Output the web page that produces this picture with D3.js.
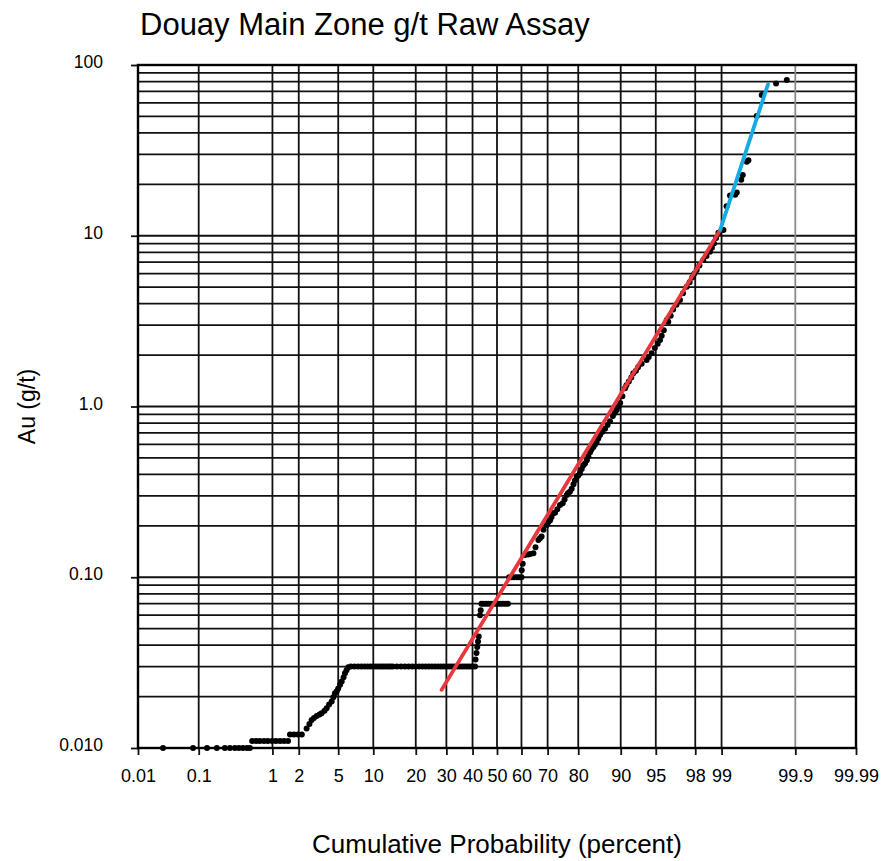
<!DOCTYPE html>
<html>
<head>
<meta charset="utf-8">
<script src="https://cdn.jsdelivr.net/npm/d3@7"></script>
<style>
  body { margin: 0; background: #fff; }
  text { font-family: 'Liberation Sans', Arial, sans-serif; }
</style>
</head>
<body>
<div id="viz"></div>
<script>
const width = 882;
const height = 861;
const margin = {top: 65, right: 26, bottom: 113, left: 138};

// Probability axis ticks (percent) and log axis ticks (g/t)
const xTicks = [0.01, 0.1, 1, 2, 5, 10, 20, 30, 40, 50, 60, 70, 80, 90, 95, 98, 99, 99.9, 99.99];
const yTicks = [0.01, 0.1, 1, 10, 100];
const yTickLabels = ['0.010', '0.10', '1.0', '10', '100'];

// Assays: cumulative probability (percent) and Au (g/t)
const cumProb = [
  0.027, 0.082, 0.133, 0.185, 0.241, 0.283, 0.331, 0.375, 0.424, 0.479, 0.523,
  0.56, 0.63, 0.70, 0.79, 0.88, 0.99, 1.10, 1.23, 1.37, 1.52,
  1.60, 1.77, 1.96, 2.16,
  2.43, 2.6, 2.74, 2.9, 3.09, 3.3, 3.46, 3.7, 3.88, 4.1, 4.34, 4.5, 4.66, 4.85, 5.0, 5.2, 5.38, 5.6, 5.76, 5.95, 6.17,
  6.5, 7, 7.5, 8, 8.5, 9, 9.5, 10, 10.5, 11, 11.5, 12, 12.5, 13, 13.5, 14,
  15, 16, 17, 18, 19, 20, 21, 22, 23, 24, 25, 26, 27, 28, 29, 30, 31, 32, 33, 34, 35, 36, 37, 38, 39, 40, 41,
  41.2, 41.6, 41.9, 42.2, 42.5, 43.0, 43.3,
  43.6, 44.5, 45.5, 46.5, 47.5, 48.5, 49.5, 50.5, 51.5, 52.5, 53.5, 54.5,
  55, 56, 57, 58, 59, 60,
  60.1, 60.5, 61.4, 62.7, 63.5, 64.7, 65.5, 66.6, 67.2, 67.8, 68.5, 69.7, 70.3, 70.9, 71.4, 72.0, 72.6, 73.4, 74.3, 75.2,
  75.8, 76.5, 76.9, 77.5, 78.05, 78.6, 79.05, 79.55, 80.0, 80.5, 81.0, 81.4, 81.9, 82.4, 82.8, 83.25, 83.6, 84.1, 84.5, 84.9,
  85.3, 85.7, 86.2, 86.85, 87.4, 87.9, 88.5, 88.9, 89.25, 89.6, 89.9, 90.3, 90.76, 91.0, 91.4, 91.8, 92.1, 92.5, 92.8, 93.3,
  93.95, 94.2, 94.55, 94.9, 95.2, 95.44, 95.6, 95.8, 96.07, 96.2, 96.4, 96.6, 96.85, 97.1, 97.3, 97.53, 97.7, 97.84, 97.95, 98.07,
  98.2, 98.37, 98.5, 98.63, 98.7, 98.77, 98.84, 98.91, 99.05,
  99.13, 99.21, 99.32, 99.35, 99.43, 99.455, 99.517, 99.54, 99.644, 99.695, 99.808, 99.866
];
const auGt = [
  0.01, 0.01, 0.01, 0.01, 0.01, 0.01, 0.01, 0.01, 0.01, 0.01, 0.01,
  0.011, 0.011, 0.011, 0.011, 0.011, 0.011, 0.011, 0.011, 0.011, 0.011,
  0.012, 0.012, 0.012, 0.012,
  0.013, 0.0138, 0.0146, 0.015, 0.0154, 0.0157, 0.016, 0.0165, 0.0171, 0.018, 0.0187, 0.0198, 0.0209, 0.0215, 0.0223, 0.0235, 0.0245, 0.026, 0.0274, 0.0285, 0.0297,
  0.03, 0.03, 0.03, 0.03, 0.03, 0.03, 0.03, 0.03, 0.03, 0.03, 0.03, 0.03, 0.03, 0.03, 0.03, 0.03,
  0.03, 0.03, 0.03, 0.03, 0.03, 0.03, 0.03, 0.03, 0.03, 0.03, 0.03, 0.03, 0.03, 0.03, 0.03, 0.03, 0.03, 0.03, 0.03, 0.03, 0.03, 0.03, 0.03, 0.03, 0.03, 0.03, 0.03,
  0.033, 0.036, 0.039, 0.042, 0.045, 0.06, 0.064,
  0.07, 0.07, 0.07, 0.07, 0.07, 0.07, 0.07, 0.07, 0.07, 0.07, 0.07, 0.07,
  0.1, 0.1, 0.1, 0.1, 0.1, 0.1,
  0.11, 0.12, 0.135, 0.136, 0.137, 0.138, 0.15, 0.165, 0.169, 0.173, 0.19, 0.202, 0.211, 0.216, 0.225, 0.237, 0.239, 0.25, 0.265, 0.271,
  0.285, 0.303, 0.31, 0.317, 0.33, 0.35, 0.369, 0.388, 0.395, 0.405, 0.43, 0.452, 0.464, 0.485, 0.51, 0.54, 0.56, 0.58, 0.6, 0.62,
  0.65, 0.68, 0.71, 0.74, 0.78, 0.82, 0.88, 0.92, 0.954, 1.0, 1.05, 1.15, 1.278, 1.33, 1.4, 1.48, 1.565, 1.62, 1.7, 1.78,
  1.872, 1.95, 2.05, 2.2, 2.33, 2.452, 2.6, 2.8, 3.21, 3.138, 3.4, 3.7, 3.95, 4.2, 4.6, 5.03, 5.35, 5.7, 6.0, 6.3,
  6.7, 7.2, 7.6, 8.06, 8.5, 9.0, 9.7, 10.4, 10.8,
  14.9, 17.2, 17.4, 17.9, 21.3, 22.7, 27.1, 27.7, 50.3, 66.7, 78, 81.7
];
console.assert(cumProb.length === auGt.length, cumProb.length, auGt.length);

// Lognormal fits: lower population (red) and upper population (blue)
const lowFitProb = [28.3, 98.96];
const lowFitAu = [0.0219, 10.8];
const highFitProb = [98.96, 99.75];
const highFitAu = [10.8, 77];

// inverse normal CDF (Acklam) for the probability axis
const probit = (p) => {
  const a = [-3.969683028665376e+01, 2.209460984245205e+02, -2.759285104469687e+02, 1.383577518672690e+02, -3.066479806614716e+01, 2.506628277459239e+00];
  const b = [-5.447609879822406e+01, 1.615858368580409e+02, -1.556989798598866e+02, 6.680131188771972e+01, -1.328068155288572e+01];
  const c = [-7.784894002430293e-03, -3.223964580411365e-01, -2.400758277161838e+00, -2.549732539343734e+00, 4.374664141464968e+00, 2.938163982698783e+00];
  const d = [7.784695709041462e-03, 3.224671290700398e-01, 2.445134137142996e+00, 3.754408661907416e+00];
  const pl = 0.02425;
  let q, r;
  if (p < pl) {
    q = Math.sqrt(-2 * Math.log(p));
    return (((((c[0]*q + c[1])*q + c[2])*q + c[3])*q + c[4])*q + c[5]) / ((((d[0]*q + d[1])*q + d[2])*q + d[3])*q + 1);
  }
  if (p > 1 - pl) {
    q = Math.sqrt(-2 * Math.log(1 - p));
    return -(((((c[0]*q + c[1])*q + c[2])*q + c[3])*q + c[4])*q + c[5]) / ((((d[0]*q + d[1])*q + d[2])*q + d[3])*q + 1);
  }
  q = p - 0.5;
  r = q * q;
  return (((((a[0]*r + a[1])*r + a[2])*r + a[3])*r + a[4])*r + a[5])*q / (((((b[0]*r + b[1])*r + b[2])*r + b[3])*r + b[4])*r + 1);
};

const zScale = d3.scaleLinear()
  .domain([probit(0.0001), probit(0.9999)])
  .range([margin.left, width - margin.right]);

// probability scale usable by d3.axis
const xScale = (p) => zScale(probit(p / 100));
xScale.domain = () => [0.01, 99.99];
xScale.range = () => zScale.range();
xScale.copy = () => xScale;

const yScale = d3.scaleLog()
  .domain([0.01, 100])
  .range([height - margin.bottom, margin.top]);

const svg = d3.select('#viz')
  .append('svg')
    .attr('width', width)
    .attr('height', height);

// grid
const yGrid = [];
[0.01, 0.1, 1, 10].forEach(dec => {
  for (let k = 1; k <= 9; k++) yGrid.push(dec * k);
});
yGrid.push(100);

svg.append('g')
  .selectAll('line')
  .data(yGrid)
  .join('line')
    .attr('x1', margin.left)
    .attr('x2', width - margin.right)
    .attr('y1', d => yScale(d))
    .attr('y2', d => yScale(d))
    .attr('stroke', '#111')
    .attr('stroke-width', (d, i) => i % 9 === 0 ? 2.2 : 1.8);

svg.append('g')
  .selectAll('line')
  .data(xTicks)
  .join('line')
    .attr('x1', d => xScale(d))
    .attr('x2', d => xScale(d))
    .attr('y1', margin.top)
    .attr('y2', height - margin.bottom)
    .attr('stroke', d => d === 99.9 ? '#8a8a8a' : '#111')
    .attr('stroke-width', 1.8);

// axes
const xAxis = svg.append('g')
  .attr('transform', `translate(0, ${height - margin.bottom})`)
  .call(d3.axisBottom(xScale).tickValues(xTicks).tickSize(7).tickPadding(14).tickFormat(d => d));
xAxis.select('.domain').remove();
xAxis.selectAll('line').attr('stroke', '#111').attr('stroke-width', 1.8);
xAxis.selectAll('text').attr('font-size', 18).attr('fill', '#000');

const yAxis = svg.append('g')
  .attr('transform', `translate(${margin.left}, 0)`)
  .call(d3.axisLeft(yScale).tickValues(yTicks).tickSize(7).tickPadding(28)
    .tickFormat((d, i) => yTickLabels[i]));
yAxis.select('.domain').remove();
yAxis.selectAll('line').attr('stroke', '#111').attr('stroke-width', 1.8);
yAxis.selectAll('text').attr('font-size', 17.5).attr('fill', '#000').attr('dy', '0.15em');

// frame
svg.append('rect')
  .attr('x', margin.left)
  .attr('y', margin.top)
  .attr('width', width - margin.left - margin.right)
  .attr('height', height - margin.top - margin.bottom)
  .attr('fill', 'none')
  .attr('stroke', '#000')
  .attr('stroke-width', 2.4);

// assay points
svg.append('g')
  .selectAll('circle')
  .data(cumProb)
  .join('circle')
    .attr('cx', d => xScale(d))
    .attr('cy', (d, i) => yScale(auGt[i]))
    .attr('r', 3)
    .attr('fill', '#000');

// fitted lines
const line = d3.line()
  .x(d => xScale(d[0]))
  .y(d => yScale(d[1]));

svg.append('path')
  .attr('d', line(d3.zip(lowFitProb, lowFitAu)))
  .attr('fill', 'none')
  .attr('stroke', '#e8383d')
  .attr('stroke-width', 3.8)
  .attr('stroke-linecap', 'round');

svg.append('path')
  .attr('d', line(d3.zip(highFitProb, highFitAu)))
  .attr('fill', 'none')
  .attr('stroke', '#14aae4')
  .attr('stroke-width', 3.8)
  .attr('stroke-linecap', 'round');

// titles
svg.append('text')
  .attr('x', 140)
  .attr('y', 35)
  .attr('font-size', 31)
  .text('Douay Main Zone g/t Raw Assay');

svg.append('text')
  .attr('transform', `translate(27, ${(margin.top + height - margin.bottom) / 2}) rotate(-90)`)
  .attr('text-anchor', 'middle')
  .attr('dominant-baseline', 'central')
  .attr('font-size', 23)
  .text('Au (g/t)');

svg.append('text')
  .attr('x', zScale(0))
  .attr('y', 853)
  .attr('text-anchor', 'middle')
  .attr('font-size', 26)
  .text('Cumulative Probability (percent)');
</script>
</body>
</html>
